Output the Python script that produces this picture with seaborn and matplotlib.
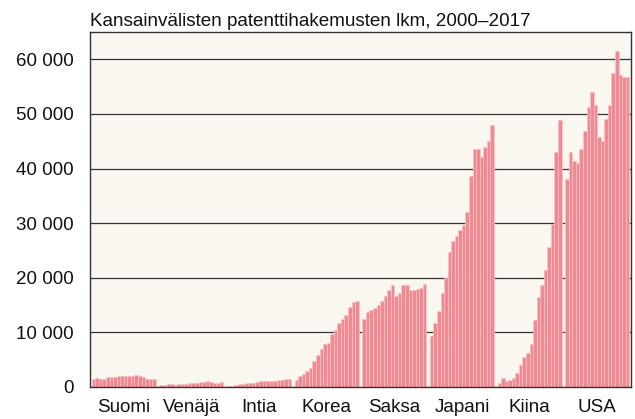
import numpy as np
import pandas as pd
import matplotlib
matplotlib.use("Agg")
import matplotlib.pyplot as plt
import seaborn as sns

# International patent applications (PCT) per country, 2000-2017
countries = ["Suomi", "Venäjä", "Intia", "Korea", "Saksa", "Japani", "Kiina", "USA"]
years = list(range(2000, 2018))

suomi = [1500, 1650, 1450, 1500, 1750, 1750, 1850, 1950, 2100, 2050, 2050, 1950, 2200, 1950, 1750, 1550, 1450, 1450]
venaja = [450, 450, 500, 500, 450, 550, 550, 600, 650, 650, 750, 850, 1000, 1050, 850, 800, 800, 1000]
intia = [100, 200, 400, 550, 600, 650, 700, 800, 850, 1050, 1100, 1100, 1100, 1150, 1200, 1300, 1400, 1450]
korea = [1300, 2100, 2400, 2900, 3550, 4700, 5900, 7000, 7900, 8000, 9700, 10400, 11800, 12400, 13100, 14600, 15600, 15800]
saksa = [12400, 13800, 14100, 14500, 15000, 15700, 16600, 17700, 18700, 16600, 17300, 18700, 18600, 17800, 17800, 17900, 18200, 18800]
japani = [9400, 11700, 13900, 17200, 20000, 24700, 26800, 27600, 28700, 29700, 32000, 38700, 43500, 43600, 42200, 43900, 45100, 48000]
kiina = [700, 1700, 1100, 1300, 1700, 2500, 4000, 5400, 6200, 7900, 12300, 16500, 18600, 21500, 25600, 29900, 43100, 48900]
usa = [38000, 43100, 41300, 41100, 43500, 46900, 51300, 54100, 51700, 45700, 45000, 49100, 51700, 57500, 61500, 57200, 56700, 56700]

series = [suomi, venaja, intia, korea, saksa, japani, kiina, usa]
yticks = [0, 10000, 20000, 30000, 40000, 50000, 60000]
ytick_labels = ["0", "10 000", "20 000", "30 000", "40 000", "50 000", "60 000"]

slot = len(years) + 1  # one empty slot between countries
rows = []
for g, (name, vals) in enumerate(zip(countries, series)):
    for i, (yr, v) in enumerate(zip(years, vals)):
        rows.append({"maa": name, "vuosi": yr, "pos": g * slot + i, "lkm": v})
df = pd.DataFrame(rows)

sns.set_style("white")
plt.rcParams["font.family"] = ["Liberation Sans", "DejaVu Sans"]

bg = "#FAF6F0"
bar_color = "#F08A92"
dark = "#333333"

fig = plt.figure(figsize=(6.35, 4.19), dpi=100)
ax = fig.add_axes([0.1417, 0.0764, 0.852, 0.8472])
ax.set_facecolor(bg)

sns.barplot(data=df, x="pos", y="lkm", native_scale=True, width=1,
            color=bar_color, saturation=1, edgecolor="#F7C3C7",
            linewidth=0.5, errorbar=None, ax=ax)

ax.set_xlim(-1, len(countries) * slot - 1)
ax.set_ylim(0, 65000)

# ticks at country centres (labelled) and between countries
centers = [g * slot + (len(years) - 1) / 2 for g in range(len(countries))]
bounds = [g * slot + len(years) for g in range(len(countries) - 1)]
ax.set_xticks(centers)
ax.set_xticklabels(countries)
ax.set_xticks(bounds, minor=True)
ax.tick_params(axis="x", which="both", direction="in", length=4, width=1,
               color="#222222", pad=9, labelsize=13.5, labelcolor="#111111")

ax.set_yticks(yticks)
ax.set_yticklabels(ytick_labels)
ax.tick_params(axis="y", length=0, pad=12, labelsize=13.5, labelcolor="#111111")
ax.yaxis.grid(True, color=dark, linewidth=0.9)
for line in ax.get_ygridlines():
    line.set_zorder(0.5)
for p in ax.patches:
    p.set_zorder(1)

ax.set_xlabel("")
ax.set_ylabel("")
for s in ax.spines.values():
    s.set_visible(True)
    s.set_color(dark)
    s.set_linewidth(1)

ax.set_title("Kansainvälisten patenttihakemusten lkm, 2000–2017", loc="left",
             fontsize=13.6, pad=4, color="#111111")

fig.savefig("out.png", dpi=100, facecolor="white")
plt.close(fig)
